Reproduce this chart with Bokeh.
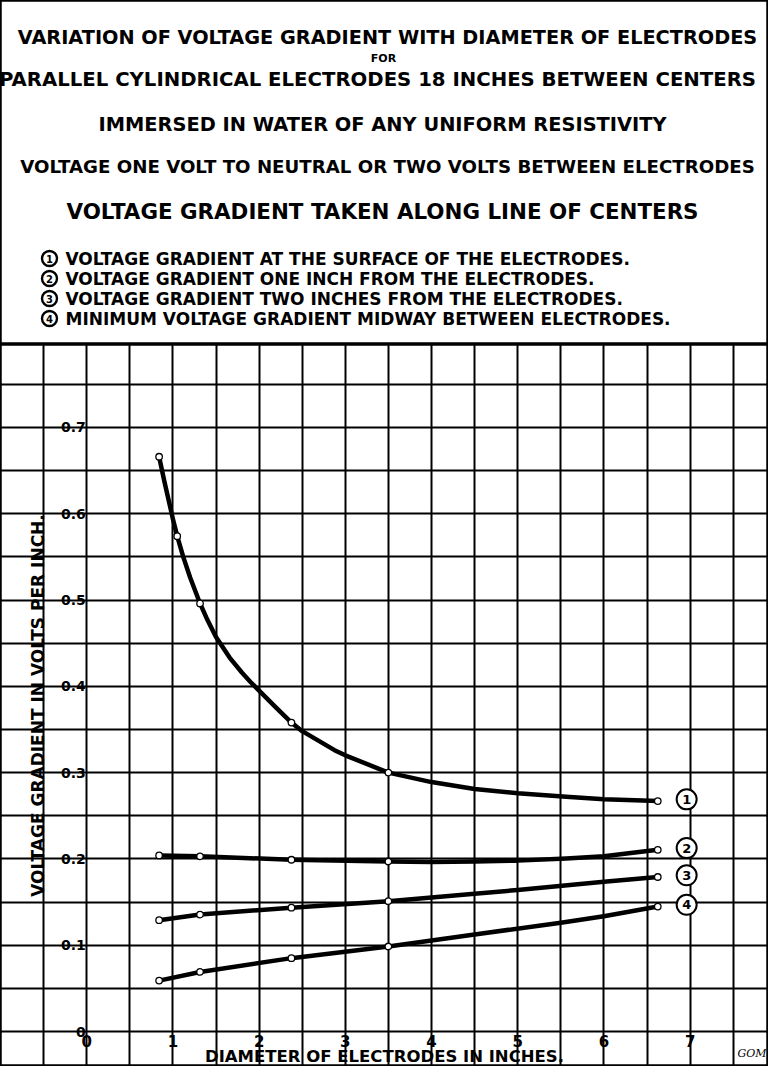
from bokeh.plotting import figure
from bokeh.layouts import column
from bokeh.models import (Range1d, Grid, LinearAxis, FixedTicker, SingleIntervalTicker,
                          NumeralTickFormatter)
from bokeh.core.properties import value
from bokeh.embed import file_html
from bokeh.resources import INLINE

# ---------------- data ----------------
TITLE_LINES = [
    "VARIATION OF VOLTAGE GRADIENT WITH DIAMETER OF ELECTRODES",
    "FOR",
    "PARALLEL CYLINDRICAL ELECTRODES 18 INCHES BETWEEN CENTERS",
    "IMMERSED IN WATER OF ANY UNIFORM RESISTIVITY",
    "VOLTAGE ONE VOLT TO NEUTRAL OR TWO VOLTS BETWEEN ELECTRODES",
    "VOLTAGE GRADIENT TAKEN ALONG LINE OF CENTERS",
]
LEGEND_NUMBERS = ["1", "2", "3", "4"]
LEGEND_TEXTS = [
    "VOLTAGE GRADIENT AT THE SURFACE OF THE ELECTRODES.",
    "VOLTAGE GRADIENT ONE INCH FROM THE ELECTRODES.",
    "VOLTAGE GRADIENT TWO INCHES FROM THE ELECTRODES.",
    "MINIMUM VOLTAGE GRADIENT MIDWAY BETWEEN ELECTRODES.",
]
X_TITLE = "DIAMETER OF ELECTRODES IN INCHES."
Y_TITLE = "VOLTAGE GRADIENT IN VOLTS PER INCH."
X_TICKS = [0, 1, 2, 3, 4, 5, 6, 7]
Y_TICKS = [0, 0.1, 0.2, 0.3, 0.4, 0.5, 0.6, 0.7]
SIGNATURE = "GOM"

# diameters (inches) and voltage gradient (volts per inch)
diam_1 = [0.84, 0.9, 1.0, 1.05, 1.12, 1.2, 1.315, 1.4, 1.5, 1.66, 1.8, 1.9, 2.0, 2.2,
          2.375, 2.5, 2.875, 3.0, 3.5, 4.0, 4.5, 5.0, 5.563, 6.0, 6.625]
grad_1 = [0.666, 0.638, 0.594, 0.574, 0.550, 0.526, 0.496, 0.477, 0.457, 0.433, 0.416, 0.405,
          0.395, 0.375, 0.358, 0.348, 0.326, 0.320, 0.300, 0.289, 0.281, 0.276, 0.272, 0.269, 0.267]

diam_2 = [0.84, 1.315, 2.375, 3.5, 4.0, 4.5, 5.0, 5.563, 6.0, 6.625]
grad_2 = [0.204, 0.203, 0.199, 0.197, 0.1965, 0.197, 0.198, 0.2005, 0.203, 0.2105]

diam_3 = [0.84, 1.315, 2.375, 3.5, 4.5, 5.0, 6.0, 6.625]
grad_3 = [0.129, 0.1355, 0.1435, 0.151, 0.1595, 0.164, 0.1735, 0.179]

diam_4 = [0.84, 1.315, 2.375, 3.5, 4.5, 5.5, 6.0, 6.625]
grad_4 = [0.059, 0.069, 0.085, 0.0985, 0.1125, 0.126, 0.1335, 0.1448]

# diameters at which the computed points are marked with small circles
marked_1 = [0.84, 1.05, 1.315, 2.375, 3.5, 6.625]
marked_other = [0.84, 1.315, 2.375, 3.5, 6.625]

CURVES = [(diam_1, grad_1, marked_1), (diam_2, grad_2, marked_other),
          (diam_3, grad_3, marked_other), (diam_4, grad_4, marked_other)]

# ---------------- layout / style ----------------
FONT_NAME = "DejaVu Sans"
FONT = value(FONT_NAME)
W = 768
HEAD_H = 344
CHART_H = 722
PX_PER_INCH = 86.2
PX_PER_VOLT = 863.0
ZERO_ROW = 687.0          # pixel row of y=0 inside the chart figure

# ---------------- header ----------------
h = figure(width=W, height=HEAD_H, x_range=Range1d(0, W), y_range=Range1d(HEAD_H, 0),
           x_axis_type=None, y_axis_type=None, toolbar_location=None, output_backend="svg",
           min_border=0, outline_line_color="black", outline_line_width=2.5,
           background_fill_color="white", border_fill_color="white")

title_x = [387, 383, 377, 382, 387, 382]
title_y = [37, 58, 79, 124, 166, 211]
title_sz = ["19.3px", "11px", "19.7px", "19.4px", "18.2px", "21.4px"]
for t, tx, ty, sz in zip(TITLE_LINES, title_x, title_y, title_sz):
    h.text(x=[tx], y=[ty], text=[t], text_font=FONT, text_font_style="bold",
           text_font_size=sz, text_align="center", text_baseline="middle", text_color="black")

leg_y = [258, 278, 298, 318]
h.scatter(x=[49] * 4, y=leg_y, marker="circle", size=15, fill_color="white",
          line_color="black", line_width=2.4)
h.text(x=[49] * 4, y=leg_y, text=LEGEND_NUMBERS, text_font=FONT, text_font_style="bold",
       text_font_size="10px", text_align="center", text_baseline="middle")
h.text(x=[65] * 4, y=leg_y, text=LEGEND_TEXTS, text_font=FONT, text_font_style="bold",
       text_font_size="17px", text_align="left", text_baseline="middle")

# ---------------- chart ----------------
x0 = -1.0
x1 = x0 + W / PX_PER_INCH
y1 = ZERO_ROW / PX_PER_VOLT
y0 = -(CHART_H - ZERO_ROW) / PX_PER_VOLT

p = figure(width=W, height=CHART_H, x_range=Range1d(x0, x1), y_range=Range1d(y0, y1),
           x_axis_type=None, y_axis_type=None, toolbar_location=None, output_backend="svg",
           min_border=0, outline_line_color="black", outline_line_width=2.5,
           background_fill_color="white", border_fill_color="white")

p.add_layout(Grid(dimension=0, ticker=SingleIntervalTicker(interval=0.5),
                  grid_line_color="black", grid_line_width=2))
p.add_layout(Grid(dimension=1, ticker=SingleIntervalTicker(interval=0.05),
                  grid_line_color="black", grid_line_width=2))

yax = LinearAxis(fixed_location=0, ticker=FixedTicker(ticks=Y_TICKS),
                 formatter=NumeralTickFormatter(format="0.[0]"),
                 axis_line_color=None, major_tick_line_color=None, minor_tick_line_color=None,
                 major_tick_out=0, major_tick_in=0, major_label_standoff=1,
                 major_label_text_font=FONT_NAME, major_label_text_font_style="bold",
                 major_label_text_font_size="14px", major_label_text_color="black",
                 axis_label=Y_TITLE, axis_label_text_font=FONT_NAME,
                 axis_label_text_font_style="bold", axis_label_text_font_size="17px",
                 axis_label_text_color="black", axis_label_standoff=10)
p.add_layout(yax, "left")

xax = LinearAxis(fixed_location=0, ticker=FixedTicker(ticks=X_TICKS),
                 formatter=NumeralTickFormatter(format="0"),
                 axis_line_color=None, major_tick_line_color=None, minor_tick_line_color=None,
                 major_tick_out=0, major_tick_in=0, major_label_standoff=3,
                 major_label_text_font=FONT_NAME, major_label_text_font_style="bold",
                 major_label_text_font_size="15px", major_label_text_color="black",
                 axis_label=X_TITLE, axis_label_text_font=FONT_NAME,
                 axis_label_text_font_style="bold", axis_label_text_font_size="16.5px",
                 axis_label_text_color="black", axis_label_standoff=-3)
p.add_layout(xax, "below")

for xs, ys, marked in CURVES:
    p.line(xs, ys, line_color="black", line_width=4.5, line_join="round", line_cap="round")
    mx = [x for x in xs if x in marked]
    my = [y for x, y in zip(xs, ys) if x in marked]
    p.scatter(mx, my, marker="circle", size=6.5, fill_color="white", line_color="black",
              line_width=1.3)

# curve numbers at the right-hand end of each curve
lab_x = [c[0][-1] + 0.335 for c in CURVES]
lab_y = [c[1][-1] + 0.002 for c in CURVES]
p.scatter(lab_x, lab_y, marker="circle", size=20, fill_color="white", line_color="black",
          line_width=2)
p.text(lab_x, lab_y, text=LEGEND_NUMBERS, text_font=FONT, text_font_style="bold",
       text_font_size="13px", text_align="center", text_baseline="middle")

p.text(x=[7.55], y=[-0.026], text=[SIGNATURE], text_font=value("DejaVu Serif"),
       text_font_style="italic", text_font_size="11px", text_align="left",
       text_baseline="middle")

layout = column(h, p, spacing=0)
open("out.html", "w").write(file_html(layout, INLINE))
